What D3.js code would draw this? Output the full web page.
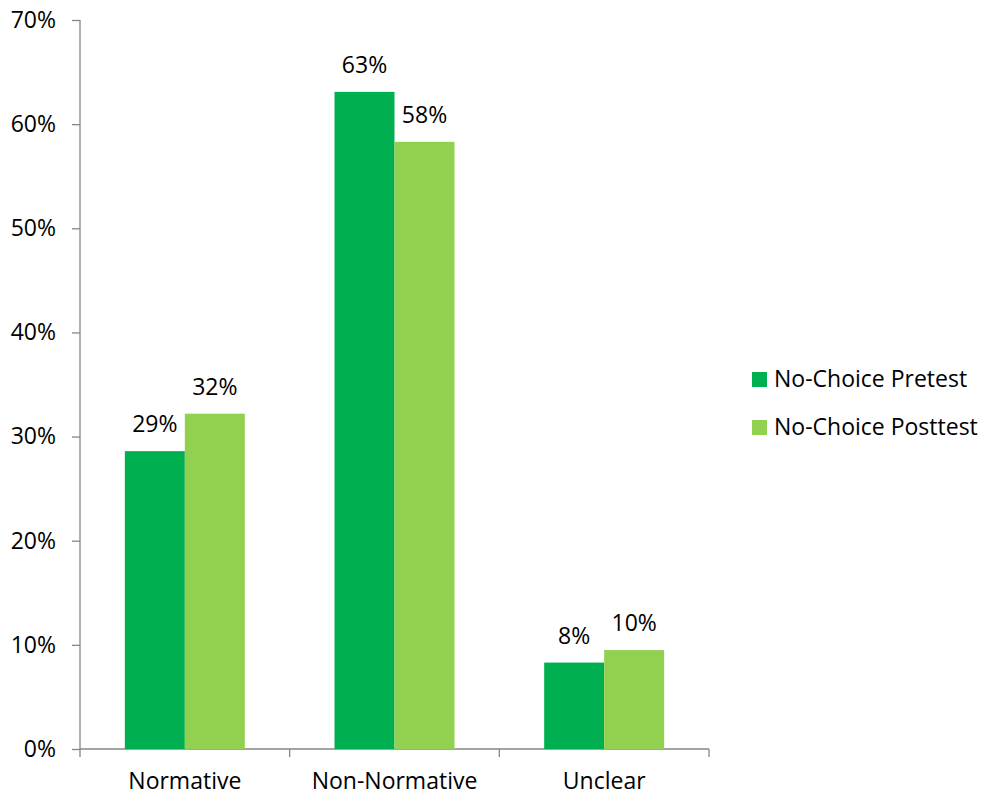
<!DOCTYPE html>
<html>
<head>
<meta charset="utf-8">
<script src="https://cdn.jsdelivr.net/npm/d3@7"></script>
<style>
  body { margin: 0; background: #fff; }
  text { font-family: "Open Sans", sans-serif; fill: #000; }
</style>
</head>
<body>
<svg id="chart" width="985" height="800"></svg>
<script>
var categories = ["Normative", "Non-Normative", "Unclear"];
var seriesNames = ["No-Choice Pretest", "No-Choice Posttest"];
var pretest = [28.6, 63.1, 8.3];
var posttest = [32.2, 58.3, 9.5];
var yTicks = [0, 10, 20, 30, 40, 50, 60, 70];
var colors = ["#00b050", "#92d050"];

var svg = d3.select('#chart');
var plotLeft = 80, plotRight = 709, plotTop = 20, plotBottom = 749;
var fontSize = '23px';

var x = d3.scaleBand()
  .domain(categories)
  .range([plotLeft, plotRight]);

var inner = d3.scaleBand()
  .domain(seriesNames)
  .range([0, 120]);

var y = d3.scaleLinear()
  .domain([0, 70])
  .range([plotBottom, plotTop]);

// y axis
var yAxis = svg.append('g')
  .attr('transform', 'translate(' + plotLeft + ',0)')
  .call(d3.axisLeft(y).tickValues(yTicks).tickSize(8).tickPadding(16)
    .tickFormat(function(d){ return d + '%'; }));
yAxis.selectAll('text').attr('font-size', fontSize).attr('fill', '#000');

// x axis
var xAxis = svg.append('g')
  .attr('transform', 'translate(0,' + plotBottom + ')')
  .call(d3.axisBottom(x).tickSize(0).tickPadding(24));
xAxis.selectAll('text').attr('font-size', fontSize).attr('fill', '#000');

// category divider ticks
xAxis.selectAll('.divider')
  .data(d3.range(categories.length + 1))
  .enter()
  .append('line')
  .attr('class', 'divider')
  .attr('x1', function(d){ return plotLeft + d * x.step(); })
  .attr('x2', function(d){ return plotLeft + d * x.step(); })
  .attr('y1', 0)
  .attr('y2', 8);

svg.selectAll('.domain, .tick line, .divider')
  .attr('stroke', '#868686')
  .attr('stroke-width', 1.3);
yAxis.select('.domain').attr('d', 'M0,' + plotTop + 'V' + plotBottom);
xAxis.select('.domain').attr('d', 'M' + plotLeft + ',0H' + plotRight);

var rows = categories.map(function(c, i){
  return { cat: c, vals: [pretest[i], posttest[i]] };
});

var groups = svg.selectAll('.group')
  .data(rows)
  .enter()
  .append('g')
  .attr('class', 'group')
  .attr('transform', function(d){
    return 'translate(' + (x(d.cat) + x.bandwidth() / 2 - 60) + ',0)';
  });

groups.selectAll('rect')
  .data(function(d){ return d.vals; })
  .enter()
  .append('rect')
  .attr('x', function(d, i){ return inner(seriesNames[i]); })
  .attr('width', inner.bandwidth())
  .attr('y', function(d){ return y(d); })
  .attr('height', function(d){ return plotBottom - y(d); })
  .attr('fill', function(d, i){ return colors[i]; });

groups.selectAll('.lbl')
  .data(function(d){ return d.vals; })
  .enter()
  .append('text')
  .attr('class', 'lbl')
  .attr('x', function(d, i){ return inner(seriesNames[i]) + inner.bandwidth() / 2; })
  .attr('y', function(d){ return y(d) - 19; })
  .attr('text-anchor', 'middle')
  .attr('font-size', fontSize)
  .text(function(d){ return Math.round(d) + '%'; });

// legend
var legend = svg.selectAll('.legend')
  .data(seriesNames)
  .enter()
  .append('g')
  .attr('class', 'legend')
  .attr('transform', function(d, i){ return 'translate(752,' + (372 + i * 48) + ')'; });
legend.append('rect')
  .attr('width', 15)
  .attr('height', 15)
  .attr('fill', function(d, i){ return colors[i]; });
legend.append('text')
  .attr('x', 22)
  .attr('y', 15)
  .attr('font-size', fontSize)
  .text(function(d){ return d; });
</script>
</body>
</html>
